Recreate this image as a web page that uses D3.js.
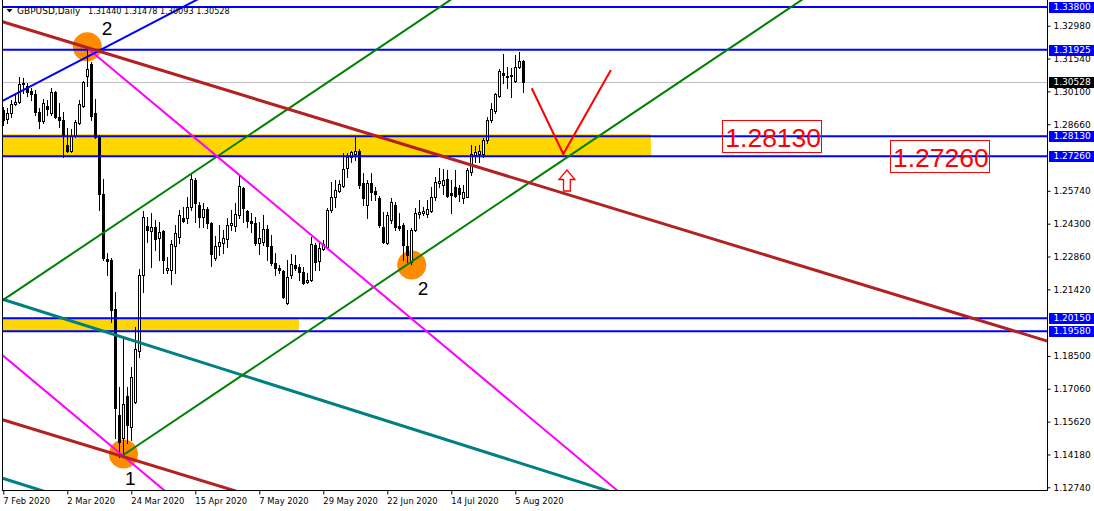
<!DOCTYPE html>
<html><head><meta charset="utf-8">
<script src="https://cdn.jsdelivr.net/npm/d3@7"></script>
<style>
body{margin:0;background:#fff;}
svg{display:block;}
</style>
</head><body>
<svg id="c" width="1094" height="511"></svg>
<script>
// ---------------- data ----------------
const symbol = "GBPUSD,Daily";
const lastBar = {o:1.31440, h:1.31478, l:1.30093, c:1.30528};
const dateLabels = ["7 Feb 2020","2 Mar 2020","24 Mar 2020","15 Apr 2020","7 May 2020","29 May 2020","22 Jun 2020","14 Jul 2020","5 Aug 2020"];
const dateLabelStep = 16;
const priceTicks = [1.3298,1.3154,1.3010,1.2866,1.2574,1.2430,1.2286,1.2142,1.1850,1.1706,1.1562,1.1418,1.1274];
const hLevels = [1.33800,1.31925,1.28130,1.27260,1.20150,1.19580];
const lastPrice = 1.30528;

const opens = [1.2929,1.2889,1.2916,1.2954,1.2964,1.3041,1.3035,1.3010,1.2999,1.2920,
1.2881,1.2947,1.2916,1.3008,1.2898,1.2885,1.2776,1.2749,1.2815,1.2872,
1.2947,1.3078,1.3131,1.2916,1.2815,1.2560,1.2275,1.2271,1.2055,1.1590,
1.1489,1.1674,1.1537,1.1650,1.1871,1.2205,1.2420,1.2398,1.2415,1.2367,
1.2398,1.2227,1.2227,1.2332,1.2371,1.2455,1.2455,1.2503,1.2622,1.2512,
1.2459,1.2495,1.2433,1.2279,1.2332,1.2345,1.2363,1.2424,1.2420,1.2468,
1.2587,1.2486,1.2442,1.2433,1.2345,1.2350,1.2407,1.2332,1.2258,1.2236,
1.2223,1.2082,1.2205,1.2249,1.2240,1.2218,1.2174,1.2183,1.2336,1.2266,
1.2319,1.2328,1.2490,1.2547,1.2574,1.2596,1.2675,1.2723,1.2736,1.2749,
1.2609,1.2512,1.2609,1.2574,1.2543,1.2415,1.2345,1.2446,1.2512,1.2420,
1.2424,1.2332,1.2262,1.2402,1.2473,1.2477,1.2473,1.2486,1.2547,1.2609,
1.2600,1.2626,1.2565,1.2591,1.2587,1.2543,1.2547,1.2657,1.2732,1.2736,
1.2736,1.2798,1.2885,1.2925,1.2991,1.3092,1.3074,1.3076,1.3057,1.3118,1.31440];
const highs = [1.2942,1.2938,1.2973,1.3004,1.3074,1.3070,1.3046,1.3026,1.3017,1.2938,
1.2977,1.2973,1.3026,1.3010,1.2960,1.2920,1.2850,1.2846,1.2885,1.2973,
1.3057,1.3201,1.3140,1.2977,1.2819,1.2626,1.2301,1.2280,1.2130,1.1713,
1.1937,1.1713,1.1801,1.1977,1.2231,1.2486,1.2460,1.2477,1.2446,1.2437,
1.2402,1.2284,1.2358,1.2424,1.2490,1.2503,1.2547,1.2653,1.2631,1.2525,
1.2521,1.2503,1.2437,1.2376,1.2424,1.2402,1.2455,1.2490,1.2521,1.2644,
1.2591,1.2490,1.2477,1.2459,1.2437,1.2468,1.2424,1.2380,1.2301,1.2249,
1.2227,1.2271,1.2297,1.2292,1.2253,1.2240,1.2214,1.2372,1.2345,1.2345,
1.2358,1.2499,1.2613,1.2622,1.2622,1.2740,1.2740,1.2750,1.2813,1.2758,
1.2653,1.2622,1.2653,1.2591,1.2552,1.2481,1.2481,1.2543,1.2525,1.2477,
1.2433,1.2402,1.2411,1.2499,1.2534,1.2503,1.2534,1.2591,1.2635,1.2675,
1.2670,1.2666,1.2622,1.2666,1.2600,1.2600,1.2675,1.2776,1.2771,1.2776,
1.2806,1.2898,1.2960,1.3004,1.3109,1.3175,1.3118,1.3114,1.3171,1.3184,1.31478];
const lows = [1.2863,1.2872,1.2898,1.2951,1.2960,1.3004,1.2988,1.2973,1.2907,1.2850,
1.2872,1.2907,1.2907,1.2894,1.2855,1.2723,1.2745,1.2745,1.2811,1.2868,
1.2942,1.3035,1.2885,1.2806,1.2490,1.2271,1.2205,1.1998,1.1489,1.1406,
1.1410,1.1467,1.1480,1.1643,1.1845,1.2130,1.2349,1.2240,1.2315,1.2271,
1.2214,1.2214,1.2165,1.2214,1.2345,1.2437,1.2433,1.2490,1.2437,1.2415,
1.2415,1.2411,1.2244,1.2271,1.2292,1.2301,1.2328,1.2402,1.2398,1.2455,
1.2437,1.2415,1.2393,1.2336,1.2297,1.2336,1.2271,1.2249,1.2205,1.2214,
1.2104,1.2078,1.2192,1.2227,1.2183,1.2165,1.2170,1.2178,1.2227,1.2227,
1.2314,1.2323,1.2481,1.2503,1.2569,1.2591,1.2635,1.2701,1.2710,1.2587,
1.2512,1.2455,1.2534,1.2534,1.2415,1.2345,1.2341,1.2433,1.2402,1.2402,
1.2271,1.2262,1.2253,1.2398,1.2455,1.2468,1.2459,1.2481,1.2534,1.2591,
1.2561,1.2547,1.2477,1.2547,1.2530,1.2521,1.2547,1.2644,1.2701,1.2701,
1.2723,1.2784,1.2876,1.2916,1.2986,1.3048,1.3026,1.2986,1.3052,1.3114,1.30093];
const closes = [1.2885,1.2916,1.2956,1.2963,1.3043,1.3048,1.3007,1.2998,1.2920,1.2881,
1.2960,1.2934,1.3008,1.2898,1.2885,1.2815,1.2749,1.2815,1.2877,1.2956,
1.3052,1.3109,1.2903,1.2811,1.2560,1.2279,1.2268,1.2051,1.1621,1.1472,
1.1638,1.1546,1.1757,1.1880,1.2205,1.2459,1.2402,1.2415,1.2363,1.2393,
1.2271,1.2236,1.2341,1.2389,1.2468,1.2442,1.2503,1.2626,1.2521,1.2459,
1.2495,1.2433,1.2297,1.2332,1.2350,1.2367,1.2424,1.2433,1.2473,1.2596,
1.2499,1.2442,1.2433,1.2345,1.2367,1.2407,1.2332,1.2258,1.2236,1.2227,
1.2108,1.2196,1.2253,1.2236,1.2218,1.2170,1.2183,1.2341,1.2262,1.2323,
1.2341,1.2490,1.2547,1.2578,1.2604,1.2670,1.2723,1.2745,1.2750,1.2600,
1.2543,1.2609,1.2569,1.2561,1.2424,1.2350,1.2468,1.2525,1.2415,1.2411,
1.2336,1.2292,1.2402,1.2477,1.2481,1.2486,1.2495,1.2547,1.2613,1.2618,
1.2622,1.2552,1.2556,1.2552,1.2561,1.2569,1.2666,1.2736,1.2745,1.2749,
1.2798,1.2885,1.2933,1.2999,1.3100,1.3083,1.3078,1.3080,1.3118,1.3144,1.30528];

// zones (bar index from/to, price top/bottom)
const zoneFrom = [-5, -5];
const zoneTo = [161.9, 73.9];
const zoneTop = [1.2822, 1.2018];
const zoneBottom = [1.2726, 1.1958];

// trend lines: [bar, price] pairs
const brownLines = [[[-1,1.3320],[261,1.1915]], [[-1,1.15744],[70,1.11939]]];
const blueTrend = [[-1,1.29613],[60,1.35177]];
const magentaLines = [[[21.2,1.3197],[180,1.0872]], [[-1,1.18647],[60,1.09716]]];
const greenLines = [[[30,1.14156],[250,1.40039]], [[-1,1.20841],[150,1.38607]]];
const tealLines = [[[-1,1.21033],[200,1.09868]], [[-1,1.13185],[30,1.11463]]];
const redV = [[132.1,1.30235],[140.0,1.27354],[151.9,1.31037]];
const arrowAt = [140.9, 1.26652];

// circles (bar, price) and wave labels
const circleBars = [21, 30.05, 102.1];
const circlePrices = [1.32059, 1.14200, 1.22487];
const waveText = ["2", "1", "2"];
const waveBars = [24.6, 30.4, 103.6];
const wavePrices = [1.3257, 1.12841, 1.2117];

// price boxes
const boxText = ["1.28130", "1.27260"];
const boxBars = [179.75, 221.68];
const boxPrices = [1.28832, 1.27955];

// ---------------- drawing ----------------
const svg = d3.select("#c");
const W = 1094, H = 511;
const plotL = 2, plotR = 1047, plotB = 490;
const x = d3.scaleLinear().domain([0, 130]).range([3.3, 523.3]);
const y = d3.scaleLinear().domain([1.1274, 1.3298]).range([487.3, 25.7]);
const fmt = d3.format(".5f");
const UI = "'DejaVu Sans', sans-serif";
const ARIAL = "'Liberation Sans', Arial, sans-serif";

svg.append("rect").attr("width", W).attr("height", H).attr("fill", "#fff");
svg.append("defs").append("clipPath").attr("id","clip")
  .append("rect").attr("x", plotL+1).attr("y", 0).attr("width", plotR-plotL-1).attr("height", plotB);

const plot = svg.append("g").attr("clip-path","url(#clip)");

// zones
plot.selectAll("rect.zone").data(zoneFrom).join("rect")
  .attr("x", (d,i)=>x(zoneFrom[i]))
  .attr("width", (d,i)=>x(zoneTo[i]) - x(zoneFrom[i]))
  .attr("y", (d,i)=>y(zoneTop[i]))
  .attr("height", (d,i)=>y(zoneBottom[i]) - y(zoneTop[i]))
  .attr("fill", "#FFD700");

// circles
plot.selectAll("ellipse.wave").data(circleBars).join("ellipse")
  .attr("cx", (d,i)=>x(circleBars[i]))
  .attr("cy", (d,i)=>y(circlePrices[i]))
  .attr("rx", 14.5).attr("ry", 14.5)
  .attr("fill", "#FF8C00");

// current price line
plot.append("line").attr("x1", plotL).attr("x2", plotR)
  .attr("y1", Math.round(y(lastPrice))+0.5).attr("y2", Math.round(y(lastPrice))+0.5)
  .attr("stroke", "#C0C0C0").attr("stroke-width", 1);

// candles
const bars = d3.range(opens.length);
const cg = plot.append("g").attr("shape-rendering","crispEdges");
bars.forEach(i=>{
  const c = Math.round(x(i));
  const o = y(opens[i]), cl = y(closes[i]), hi = y(highs[i]), lo = y(lows[i]);
  cg.append("line").attr("x1", c+0.5).attr("x2", c+0.5)
    .attr("y1", Math.round(hi)).attr("y2", Math.round(lo)+1)
    .attr("stroke", "#000").attr("stroke-width", 1);
  const top = Math.round(Math.min(o, cl)), bot = Math.round(Math.max(o, cl));
  if (closes[i] >= opens[i]) {
    cg.append("rect").attr("x", c-0.5).attr("y", top+0.5)
      .attr("width", 2).attr("height", Math.max(bot-top, 1))
      .attr("fill", "#fff").attr("stroke", "#000").attr("stroke-width", 1);
  } else {
    cg.append("rect").attr("x", c-1).attr("y", top)
      .attr("width", 3).attr("height", Math.max(bot-top+1, 1))
      .attr("fill", "#000");
  }
});

// horizontal levels
plot.selectAll("line.lvl").data(hLevels).join("line")
  .attr("x1", plotL).attr("x2", plotR)
  .attr("y1", d=>y(d)).attr("y2", d=>y(d))
  .attr("stroke", "#0000FF").attr("stroke-width", 2);

const lineGen = d3.line().x(d=>x(d[0])).y(d=>y(d[1]));
function drawLines(list, color, w){
  plot.append("g").selectAll("path").data(list).join("path")
    .attr("d", lineGen).attr("fill","none")
    .attr("stroke", color).attr("stroke-width", w);
}
drawLines(tealLines, "#008080", 3);
drawLines(greenLines, "#008000", 2);
drawLines(magentaLines, "#FF00FF", 2);
drawLines([blueTrend], "#0000FF", 2);
drawLines(brownLines, "#B22222", 3);
drawLines([redV], "#FF0000", 2);

// arrow
plot.append("path")
  .attr("transform", `translate(${x(arrowAt[0])},${y(arrowAt[1])})`)
  .attr("d", "M0,0 L8,9.5 L3.4,9.5 L3.4,21 L-3.4,21 L-3.4,9.5 L-8,9.5 Z")
  .attr("fill", "#fff").attr("stroke", "#FF0000").attr("stroke-width", 1.3);

// price boxes
boxText.forEach((t,i)=>{
  const bx = x(boxBars[i]), by = y(boxPrices[i]);
  plot.append("rect").attr("x", Math.round(bx)+0.5).attr("y", Math.round(by)+0.5)
    .attr("width", 99).attr("height", 32).attr("fill","none")
    .attr("stroke","#FF0000").attr("stroke-width",1);
  plot.append("text").attr("x", bx+3).attr("y", by+27)
    .style("font-family", ARIAL)
    .style("font-size", "26.5px").attr("fill","#FF0000").text(t);
});

// wave labels
plot.selectAll("text.wave").data(waveText).join("text")
  .attr("x", (d,i)=>x(waveBars[i])).attr("y", (d,i)=>y(wavePrices[i]))
  .style("font-family", ARIAL)
  .style("font-size", "19px").attr("fill","#000").text(d=>d);

// frame
svg.append("line").attr("x1", plotL+0.5).attr("x2", plotL+0.5).attr("y1", 0).attr("y2", plotB+0.5).attr("stroke","#000");
svg.append("line").attr("x1", plotL).attr("x2", plotR+1).attr("y1", plotB+0.5).attr("y2", plotB+0.5).attr("stroke","#000");
svg.append("line").attr("x1", plotR+0.5).attr("x2", plotR+0.5).attr("y1", 0).attr("y2", plotB+1).attr("stroke","#000");

// right axis
const yAxis = d3.axisRight(y).tickValues(priceTicks).tickFormat(fmt).tickSize(3).tickPadding(3);
const ya = svg.append("g").attr("transform", `translate(${plotR+0.5},0)`).call(yAxis);
ya.select(".domain").remove();
ya.selectAll("text").style("font-family", UI).style("font-size","9px").attr("fill","#000");

// level labels on axis
const lab = svg.append("g");
hLevels.forEach(v=>{
  const yy = y(v);
  lab.append("rect").attr("x", plotR+2).attr("y", Math.round(yy)-5).attr("width", 46).attr("height", 11).attr("fill","#0000FF");
  lab.append("text").attr("x", plotR+6.5).attr("y", yy).attr("dy","0.35em")
    .style("font-family", UI).style("font-size","9px").attr("fill","#fff").text(fmt(v));
});
{
  const yy = y(lastPrice);
  lab.append("rect").attr("x", plotR+2).attr("y", Math.round(yy)-5).attr("width", 46).attr("height", 11).attr("fill","#000");
  lab.append("text").attr("x", plotR+6.5).attr("y", yy).attr("dy","0.35em")
    .style("font-family", UI).style("font-size","9px").attr("fill","#fff").text(fmt(lastPrice));
}

// bottom axis
const xAxis = d3.axisBottom(x)
  .tickValues(d3.range(0, dateLabels.length*dateLabelStep, dateLabelStep))
  .tickFormat((d,i)=>dateLabels[i]).tickSize(4).tickPadding(4);
const xa = svg.append("g").attr("transform", `translate(0,${plotB+0.5})`).call(xAxis);
xa.select(".domain").remove();
xa.selectAll("text").attr("text-anchor","start").attr("x", -0.5)
  .style("font-family", UI).style("font-size","8.4px").attr("fill","#000");

// title
svg.append("path").attr("d","M6.5,9 L12.5,9 L9.5,12.5 Z").attr("fill","#000");
svg.append("text").attr("x",17).attr("y",14).style("font-family", UI).style("font-size","9px").attr("fill","#000").text(symbol);
svg.append("text").attr("x",88).attr("y",14).style("font-family", UI).style("font-size","8.1px").attr("fill","#000")
  .text([lastBar.o,lastBar.h,lastBar.l,lastBar.c].map(fmt).join(" "));
</script>
</body></html>
